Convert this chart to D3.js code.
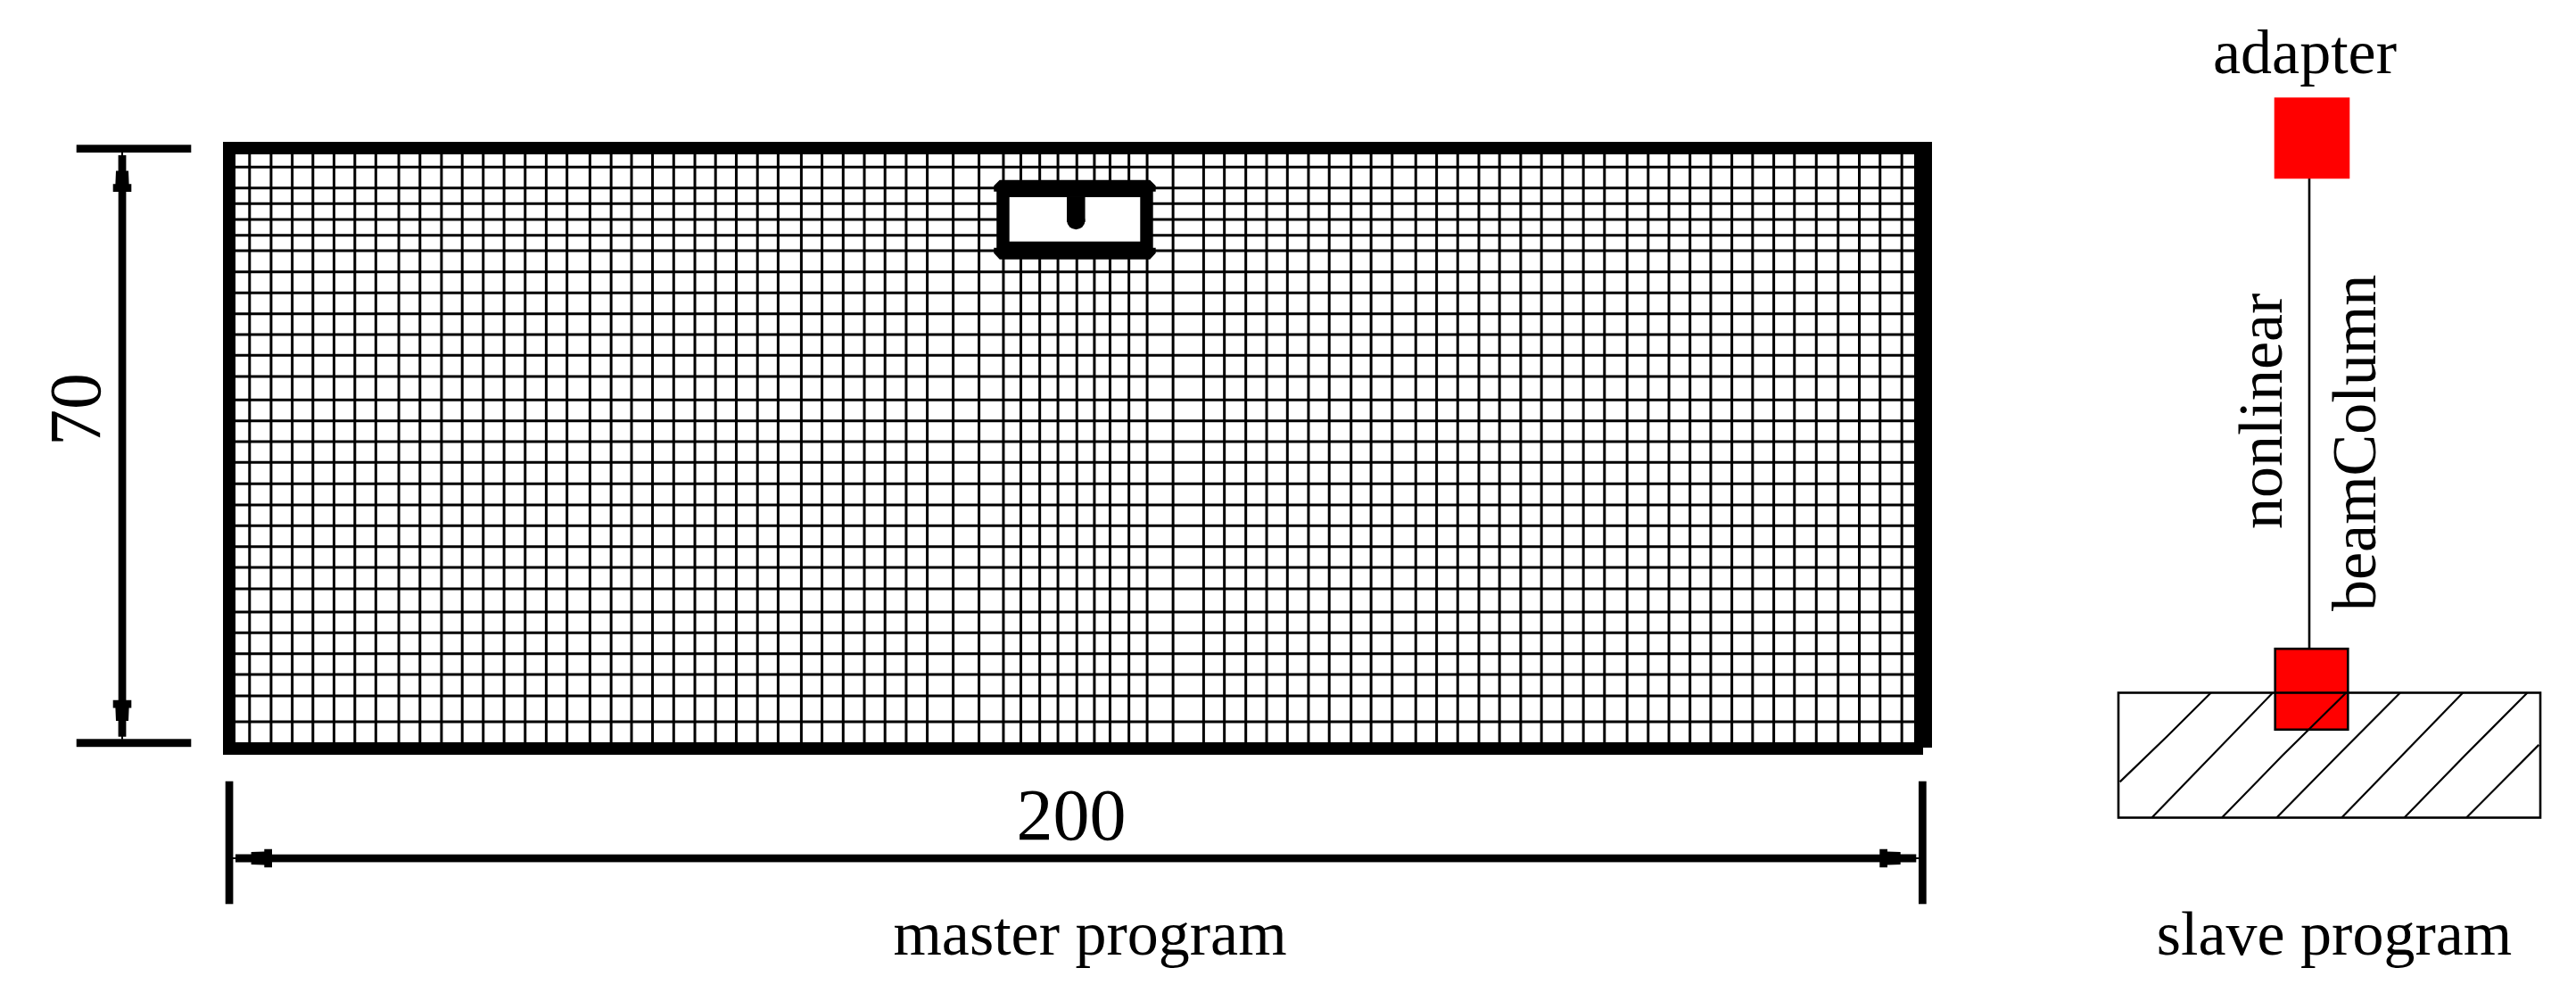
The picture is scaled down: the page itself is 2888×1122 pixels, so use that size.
<!DOCTYPE html>
<html>
<head>
<meta charset="utf-8">
<script src="https://cdn.jsdelivr.net/npm/d3@7"></script>
<style>
  html, body { margin: 0; padding: 0; background: #fff; }
  svg { display: block; }
  text { font-family: "Liberation Serif", serif; fill: #000; }
</style>
</head>
<body>
<script>
// mesh lines of the master program, in mm
var meshX = [2.40,4.94,7.44,9.88,12.37,14.83,17.31,20.02,22.52,25.06,27.51,29.99,32.45,34.94,37.43,39.88,
  42.59,45.09,47.50,49.98,52.48,54.98,57.42,59.87,62.37,64.81,67.55,69.99,72.49,74.99,77.43,79.93,82.42,
  85.48,88.53,91.41,93.47,95.70,97.85,100.08,102.15,104.00,106.23,108.38,111.44,115.05,117.50,120.03,
  122.49,124.94,127.43,129.88,132.46,134.82,137.31,140.10,142.56,145.05,147.55,149.99,152.49,154.94,
  157.43,159.89,162.38,165.05,167.54,169.99,172.48,174.93,177.42,179.87,182.37,184.81,187.39,189.97,
  192.47,194.92,197.49];
var meshY = [67.79,65.35,63.52,61.68,59.84,58.04,55.57,53.12,50.69,48.26,45.84,43.37,40.64,38.20,35.78,
  33.36,30.86,28.40,25.97,23.54,21.12,18.62,15.91,13.49,11.06,8.63,6.14,3.12];

// opening in the slab, in mm
var holeOuterX = [90.6, 109.08];
var holeOuterY = [57.03, 66.29];
var holeInnerX = [92.12, 107.56];
var holeInnerY = [59.11, 64.28];
var stemX = 99.98;
var stemEnd = 60.64;

// hatching of the fixed base, in percent of the base box: [x, y] per point
var hatches = [
  [[0.35,71.33],[11.56,34.83],[21.93,0]],
  [[7.92,100],[36.58,0]],
  [[24.53,100],[38.89,50.24],[53.96,0]],
  [[37.49,100],[52.21,49.53],[66.78,0]],
  [[52.91,100],[81.64,0]],
  [[67.76,100],[82.34,49.53],[96.92,0]],
  [[82.48,100],[99.65,41.71]]
];

var labels = ["70", "200", "master program", "slave program", "adapter", "nonlinear", "beamColumn"];

var svg = d3.select("body").append("svg").attr("width", 2888).attr("height", 1122);

var x = d3.scaleLinear().domain([0, 200]).range([257, 2156]);
var y = d3.scaleLinear().domain([0, 70]).range([839, 166]);
var baseX = d3.scaleLinear().domain([0, 100]).range([2375, 2848]);
var baseY = d3.scaleLinear().domain([0, 100]).range([776.5, 916.5]);

// mesh
var master = svg.append("g");
master.selectAll(".mx").data(meshX).enter().append("line").attr("class", "mx")
  .attr("x1", function (d) { return x(d); }).attr("x2", function (d) { return x(d); })
  .attr("y1", y(70)).attr("y2", y(0))
  .attr("stroke", "#000").attr("stroke-width", 3);
master.selectAll(".my").data(meshY).enter().append("line").attr("class", "my")
  .attr("x1", x(0)).attr("x2", x(200))
  .attr("y1", function (d) { return y(d); }).attr("y2", function (d) { return y(d); })
  .attr("stroke", "#000").attr("stroke-width", 3);

// slab outline, right edge is drawn heavier
master.append("path")
  .attr("d", "M" + x(200) + "," + y(70) + "H" + x(0) + "V" + y(0) + "H" + x(200))
  .attr("fill", "none").attr("stroke", "#000").attr("stroke-width", 14)
  .attr("stroke-linecap", "butt");
master.append("line")
  .attr("x1", x(200)).attr("x2", x(200)).attr("y1", y(70) - 7).attr("y2", y(0) - 1)
  .attr("stroke", "#000").attr("stroke-width", 20);

// opening, with the small knuckles on its corners
var ox0 = x(holeOuterX[0]), ox1 = x(holeOuterX[1]), oy0 = y(holeOuterY[1]), oy1 = y(holeOuterY[0]);
master.append("path")
  .attr("d", "M" + (ox0 + 3.5) + "," + oy0 + "H" + (ox1 - 3.5) + "L" + (ox1 + 3) + "," + (oy0 + 6.5) +
    "V" + (oy0 + 13) + "H" + ox1 + "V" + (oy1 - 13) + "H" + (ox1 + 3) + "V" + (oy1 - 7) +
    "L" + (ox1 - 3.5) + "," + oy1 + "H" + (ox0 + 3.5) + "L" + (ox0 - 3) + "," + (oy1 - 7) +
    "V" + (oy1 - 13) + "H" + ox0 + "V" + (oy0 + 13) + "H" + (ox0 - 3) + "V" + (oy0 + 6.5) + "Z")
  .attr("fill", "#000");
master.append("rect")
  .attr("x", x(holeInnerX[0])).attr("y", y(holeInnerY[1]))
  .attr("width", x(holeInnerX[1]) - x(holeInnerX[0]))
  .attr("height", y(holeInnerY[0]) - y(holeInnerY[1]))
  .attr("fill", "#fff");
master.append("line")
  .attr("x1", x(stemX)).attr("x2", x(stemX)).attr("y1", y(holeInnerY[1])).attr("y2", y(stemEnd) - 7)
  .attr("stroke", "#000").attr("stroke-width", 20.5).attr("stroke-linecap", "butt");
master.append("circle")
  .attr("cx", x(stemX)).attr("cy", y(stemEnd) - 9).attr("r", 10.2).attr("fill", "#000");

// dimension arrow, tip at the origin and pointing up, stepped like the cad export
function arrowHead(g) {
  var p = d3.path();
  p.moveTo(-1, -3); p.lineTo(1, -3); p.lineTo(1, 0); p.lineTo(4.4, 0); p.lineTo(4.4, 17.6);
  p.lineTo(7, 17.6); p.lineTo(7.6, 32.3); p.lineTo(10.3, 32.3); p.lineTo(10.3, 41);
  p.lineTo(-10.3, 41); p.lineTo(-10.3, 32.3); p.lineTo(-7.6, 32.3); p.lineTo(-7, 17.6);
  p.lineTo(-4.4, 17.6); p.lineTo(-4.4, 0); p.lineTo(-1, 0); p.closePath();
  g.append("path").attr("d", p.toString()).attr("fill", "#000");
}

var dims = svg.append("g");

// 70
dims.append("rect").attr("x", 85.7).attr("y", 162.3).attr("width", 128.6).attr("height", 8.7);
dims.append("rect").attr("x", 85.7).attr("y", 828.3).attr("width", 128.6).attr("height", 8.9);
dims.append("rect").attr("x", 132.7).attr("y", 200).attr("width", 8.7).attr("height", 600);
arrowHead(dims.append("g").attr("transform", "translate(137,174)"));
arrowHead(dims.append("g").attr("transform", "translate(137,825.7) rotate(180)"));

// 200
dims.append("rect").attr("x", 252.7).attr("y", 875.7).attr("width", 8.7).attr("height", 137.6);
dims.append("rect").attr("x", 2151).attr("y", 875.7).attr("width", 8.7).attr("height", 137.6);
dims.append("rect").attr("x", 290).attr("y", 957.7).attr("width", 1830).attr("height", 8.7);
arrowHead(dims.append("g").attr("transform", "translate(264,962) rotate(-90)"));
arrowHead(dims.append("g").attr("transform", "translate(2148.3,962) rotate(90)"));

// slave program: red nodes, element, hatched base
var slave = svg.append("g");
slave.append("line").attr("x1", 2589).attr("x2", 2589).attr("y1", 200).attr("y2", 727)
  .attr("stroke", "#000").attr("stroke-width", 2.6);
slave.append("rect").attr("x", 2549.7).attr("y", 109.3).attr("width", 84.6).attr("height", 91)
  .attr("fill", "#ff0000");
slave.append("rect").attr("x", 2550.7).attr("y", 727.2).attr("width", 81.6).attr("height", 90.6)
  .attr("fill", "#ff0000").attr("stroke", "#000").attr("stroke-width", 2.6);
slave.append("rect")
  .attr("x", baseX(0)).attr("y", baseY(0))
  .attr("width", baseX(100) - baseX(0)).attr("height", baseY(100) - baseY(0))
  .attr("fill", "none").attr("stroke", "#000").attr("stroke-width", 2.6);

var hatchLine = d3.line()
  .x(function (d) { return baseX(d[0]); })
  .y(function (d) { return baseY(d[1]); });
slave.selectAll(".hatch").data(hatches).enter().append("path").attr("class", "hatch")
  .attr("d", hatchLine)
  .attr("fill", "none").attr("stroke", "#000").attr("stroke-width", 2.2);

// labels
function label(txt, px, py, size, rot, anchor) {
  svg.append("text").text(txt)
    .attr("transform", "translate(" + px + "," + py + ")" + (rot ? " rotate(" + rot + ")" : ""))
    .attr("font-size", size).attr("text-anchor", anchor || "middle");
}
label(labels[0], 112, 459, 82, -90);
label(labels[1], 1201, 941, 82);
label(labels[2], 1222, 1070, 70);
label(labels[3], 2617, 1070, 70);
label(labels[4], 2584, 82.3, 70);
label(labels[5], 2558.3, 593, 70, -90, "start");
label(labels[6], 2663.3, 685, 70, -90, "start");
</script>
</body>
</html>
